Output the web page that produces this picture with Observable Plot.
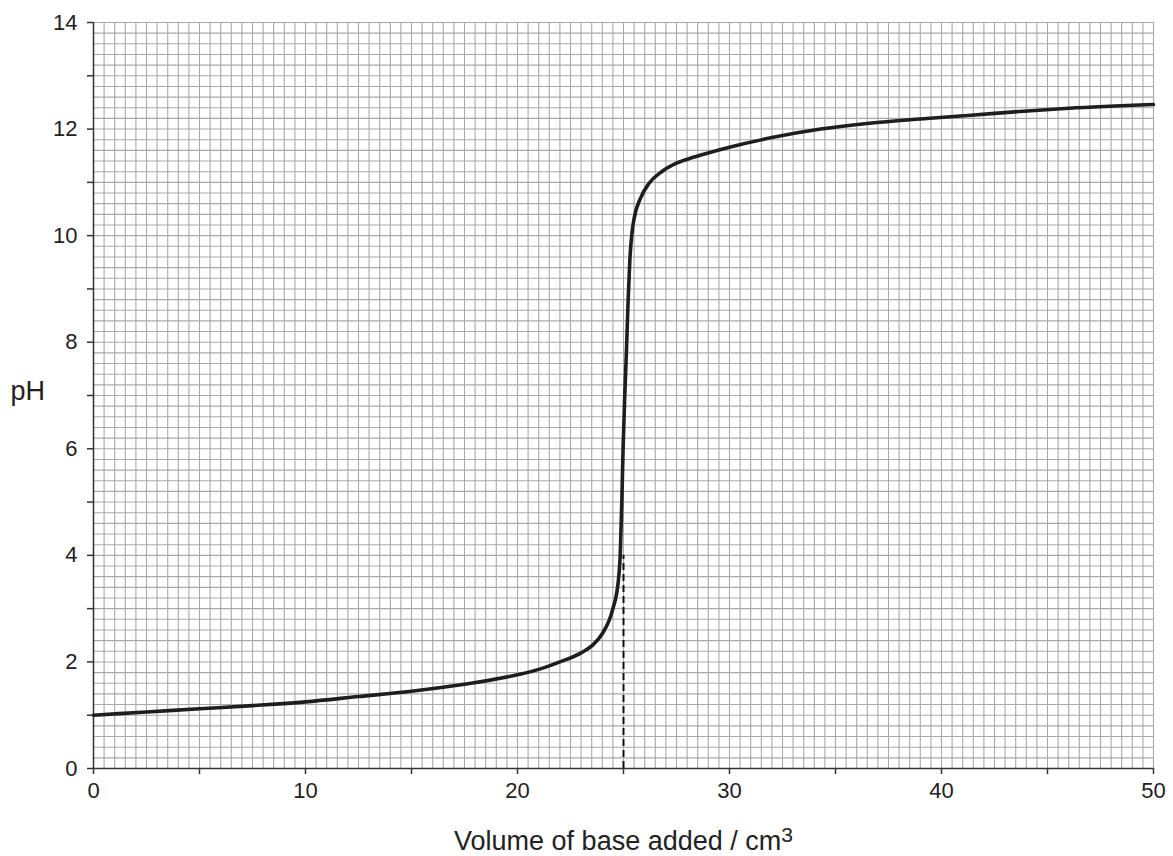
<!DOCTYPE html>
<html>
<head>
<meta charset="utf-8">
<script src="https://cdn.jsdelivr.net/npm/d3@7"></script>
<script src="https://cdn.jsdelivr.net/npm/@observablehq/plot@0.6"></script>
<style>
  html, body { margin: 0; padding: 0; background: #fff; }
  #chart svg { display: block; }
</style>
</head>
<body>
<div id="chart"></div>
<script>
// Titration curve
const volume = [0, 2.5, 5, 7.5, 10, 12.5, 15, 17.5, 20, 21, 22, 23, 23.5, 24, 24.5, 24.75, 24.85, 24.92, 24.98, 25.06, 25.14, 25.22, 25.3, 25.4, 25.5, 25.8, 26.2, 26.8, 27.5, 28.3, 30, 32, 34.3, 36.6, 39, 41.4, 43.7, 46, 50];
const pH     = [1.0, 1.06, 1.12, 1.18, 1.25, 1.35, 1.45, 1.58, 1.76, 1.86, 2.0, 2.17, 2.3, 2.53, 3.0, 3.5, 4.05, 5.0, 6.0, 7.0, 7.85, 8.8, 9.55, 10.05, 10.32, 10.7, 10.98, 11.2, 11.36, 11.47, 11.66, 11.84, 12.0, 12.11, 12.19, 12.26, 12.33, 12.39, 12.46];

// Equivalence-point marker
const eqVolume = [25];
const eqTop = [4];

// Tick labels
const xTickLabels = [0, 10, 20, 30, 40, 50];
const yTickLabels = [0, 2, 4, 6, 8, 10, 12, 14];
const xTickMarks = [0, 5, 10, 15, 20, 25, 30, 35, 40, 45, 50];
const yTickMarks = [0, 1, 2, 3, 4, 5, 6, 7, 8, 9, 10, 11, 12, 13, 14];

// Axis titles
const yTitle = "pH";
const xTitle = "Volume of base added / cm";
const xTitleSup = "3";

// Graph-paper grid spacing
const xGridStep = 0.5;
const yGridStep = 0.2;

const curve = volume.map((v, i) => ({volume: v, pH: pH[i]}));
const eq = eqVolume.map((v, i) => ({volume: v, top: eqTop[i]}));

const xGrid = d3.range(0, 50 + 1e-9, xGridStep);
const yGrid = d3.range(0, 14 + 1e-9, yGridStep).map(d => Math.round(d * 10) / 10);

const chart = Plot.plot({
  width: 1173,
  height: 856,
  marginLeft: 93,
  marginRight: 20,
  marginTop: 22,
  marginBottom: 88,
  style: {fontFamily: "'Liberation Sans', Arial, sans-serif", fontSize: "22px", color: "#222", background: "#fff"},
  x: {domain: [0, 50]},
  y: {domain: [0, 14]},
  marks: [
    Plot.ruleX(xGrid, {stroke: "#a9a9a9", strokeWidth: 1.1}),
    Plot.ruleY(yGrid, {stroke: "#a9a9a9", strokeWidth: 1.1}),
    Plot.ruleX([0], {stroke: "#333", strokeWidth: 1.5}),
    Plot.ruleY([0], {stroke: "#333", strokeWidth: 1.5}),
    Plot.axisX({ticks: xTickMarks, tickSize: 6, tickPadding: 8, stroke: "#333", strokeWidth: 1.5,
      tickFormat: d => xTickLabels.includes(d) ? String(d) : "", fontSize: 22, label: null}),
    Plot.axisY({ticks: yTickMarks, tickSize: 6, tickPadding: 10, stroke: "#333", strokeWidth: 1.5,
      tickFormat: d => yTickLabels.includes(d) ? String(d) : "", fontSize: 22, label: null}),
    Plot.ruleX(eq, {x: "volume", y1: 0, y2: "top", stroke: "#111", strokeWidth: 2, strokeDasharray: "7,4"}),
    Plot.line(curve, {x: "volume", y: "pH", curve: "monotone-x", stroke: "#1e1e1e", strokeWidth: 3.6, strokeLinejoin: "round"}),
    Plot.text([yTitle], {frameAnchor: "left", dx: -83, dy: -4, text: d => d, fontSize: 27, textAnchor: "start", fill: "#222"}),
    Plot.text([xTitle], {frameAnchor: "bottom", dy: 81, text: d => d, fontSize: 27, fill: "#222"})
  ]
});
// Add the raised "3" of cm3 as a superscript inside the same text element
d3.select(chart).selectAll("text").each(function() {
  if (this.textContent === xTitle) {
    d3.select(this).append("tspan").attr("dy", "-0.35em").attr("font-size", "0.78em").text(xTitleSup);
  }
});
document.getElementById("chart").appendChild(chart);
</script>
</body>
</html>
